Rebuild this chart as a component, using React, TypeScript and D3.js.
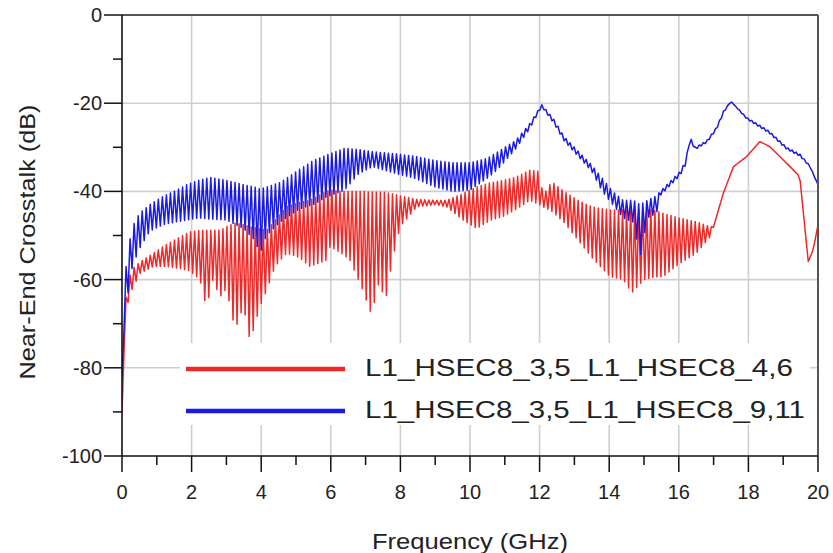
import React, { useMemo } from "react";
import * as d3 from "d3";

// ---- Data ----
const xTicks = [0, 2, 4, 6, 8, 10, 12, 14, 16, 18, 20];
const xMinorTicks = [1, 3, 5, 7, 9, 11, 13, 15, 17, 19];
const yTicks = [0, -20, -40, -60, -80, -100];
const yMinorTicks = [-10, -30, -50, -70, -90];

const seriesNames = ["L1_HSEC8_3,5_L1_HSEC8_4,6", "L1_HSEC8_3,5_L1_HSEC8_9,11"];

// oscillation half-period (GHz) of the dense ripple
const rippleHalfPeriod = 0.058;

// Blue: L1_HSEC8_3,5_L1_HSEC8_9,11 — frequency knots, upper and lower envelope (dB)
const blueF = [0, 0.05, 0.1, 0.2, 0.3, 0.5, 0.8, 1.2, 1.5, 1.86, 2.2, 2.53, 3.0, 3.5, 3.8, 3.97, 4.15, 4.54, 5.1, 5.5, 5.9, 6.4, 6.8, 7.2, 7.9, 8.4, 9.0, 9.5, 10.0, 10.5, 10.8, 11.3, 11.7, 12.06, 12.4, 12.7, 13.1, 13.5, 13.8, 14.1, 14.4, 14.7, 14.89, 15.1, 15.36, 15.46, 16.03, 16.2, 16.32, 16.47, 16.8, 17.08, 17.3, 17.5, 17.95, 18.6, 19.1, 19.48, 19.77, 20];
const blueUpper = [-82, -66, -58, -52, -48, -45, -43, -41, -40, -38.5, -37.5, -36.8, -37.5, -38.5, -39, -39.5, -39, -38, -35, -33, -31.7, -30.2, -30.5, -31, -31.5, -32, -33, -33.5, -33.5, -32.5, -31, -28.5, -24.8, -20.3, -23.5, -27.5, -30.8, -34, -37, -40, -42, -42, -43, -42, -41, -40, -35.5, -33, -27.6, -30, -28.5, -25.5, -21.5, -19.6, -23.2, -26.3, -30, -31.5, -34.2, -38.5];
const blueLower = [-82, -72, -66, -62, -57, -53, -49, -47.5, -47, -46.5, -46, -46.3, -46.5, -48.5, -51, -54, -50, -47, -44, -43, -41.2, -39.7, -36, -34.4, -36, -37, -39, -40, -39.7, -37, -35, -30.5, -26, -20.8, -24.5, -28.5, -32, -35.5, -40, -43, -46, -47, -55, -46, -45, -41, -36.5, -34, -28.5, -30.5, -29, -26, -22, -19.6, -23.6, -26.8, -30.5, -32, -34.5, -38.5];

// Red: L1_HSEC8_3,5_L1_HSEC8_4,6 — frequency knots, upper and lower envelope (dB)
const redF = [0, 0.05, 0.1, 0.14, 0.3, 0.52, 0.9, 1.28, 1.67, 1.95, 2.24, 2.43, 2.6, 2.82, 3.0, 3.25, 3.49, 3.68, 3.97, 4.16, 4.4, 4.73, 5.1, 5.4, 5.88, 5.98, 6.3, 6.55, 6.9, 7.17, 7.4, 7.56, 7.75, 7.99, 8.47, 9.0, 9.33, 9.8, 10.19, 10.6, 10.95, 11.34, 11.72, 11.99, 12.1, 12.35, 12.7, 13.1, 13.5, 14.02, 14.4, 14.65, 15.0, 15.26, 15.56, 16.0, 16.51, 16.9, 17.0, 17.28, 17.57, 17.95, 18.33, 18.62, 19.2, 19.43, 19.48, 19.72, 19.86, 20];
const redUpper = [-90, -76, -66, -61, -57.5, -56, -54, -52, -50.3, -49.2, -48.8, -48.8, -48.8, -48.8, -48, -47.2, -47.5, -48, -48.5, -48.8, -46.5, -43.5, -42.5, -42, -40, -39.7, -40, -40, -40, -40.2, -40.2, -40.2, -40.5, -41, -41.8, -42, -42, -40.5, -39, -38, -37.5, -36.7, -35.2, -35.5, -41, -37.8, -40, -42, -43.5, -44.2, -44.2, -44, -44, -44.2, -45, -46, -46.9, -48, -48, -40.4, -34.4, -32.1, -28.7, -29.9, -34.4, -36.3, -37, -55.9, -53.3, -47.6];
const redLower = [-90, -78, -68, -66, -62, -58.6, -57, -57, -57.5, -58, -60, -66.5, -60, -63.9, -62, -71.4, -66, -74, -66, -62.4, -57, -54, -55, -57, -55.6, -52.5, -54, -55.6, -62, -68, -60, -65.4, -56.3, -48, -43.5, -43, -43.5, -46.5, -48.4, -46.5, -45.7, -44, -42, -43, -43.5, -44.5, -47, -51, -55, -59.3, -60, -63, -60, -59.5, -59.3, -56.5, -54, -50.3, -48, -40.4, -34.4, -32.1, -28.7, -29.9, -34.4, -36.3, -37, -55.9, -53.3, -47.6];

const W = 833;
const H = 553;
const FONT = "'Liberation Sans', Arial, sans-serif";

function buildTrace(fs: number[], up: number[], lo: number[]) {
  const upI = d3.scaleLinear<number>().domain(fs).range(up).clamp(true);
  const loI = d3.scaleLinear<number>().domain(fs).range(lo).clamp(true);
  const pts: [number, number][] = [];
  const n = Math.floor(20 / rippleHalfPeriod);
  for (let i = 0; i <= n; i++) {
    const f = i * rippleHalfPeriod;
    pts.push([f, i % 2 === 0 ? upI(f) : loI(f)]);
  }
  pts.push([20, upI(20)]);
  return pts;
}

export default function App() {
  const x = d3.scaleLinear().domain([0, 20]).range([122, 818]);
  const y = d3.scaleLinear().domain([-100, 0]).range([456, 15]);

  const red = useMemo(() => buildTrace(redF, redUpper, redLower), []);
  const blue = useMemo(() => buildTrace(blueF, blueUpper, blueLower), []);

  const line = d3
    .line<[number, number]>()
    .x((d) => x(d[0]))
    .y((d) => y(d[1]));

  const [x0, x1] = x.range();
  const [y0, y1] = y.range();

  return (
    <svg
      width={W}
      height={H}
      style={{ position: "absolute", left: 0, top: 0, background: "#fff" }}
      fontFamily={FONT}
    >
      <defs>
        <clipPath id="plotClip">
          <rect x={x0} y={y1} width={x1 - x0} height={y0 - y1} />
        </clipPath>
      </defs>
      <rect x={0} y={0} width={W} height={H} fill="#fff" />

      {/* grid */}
      {xTicks.filter((t) => t > 0 && t < 20).map((t) => (
        <line key={"gx" + t} x1={x(t)} x2={x(t)} y1={y1} y2={y0} stroke="#cfcfcf" strokeWidth={1.6} />
      ))}
      {yTicks.filter((t) => t < 0 && t > -100).map((t) => (
        <line key={"gy" + t} x1={x0} x2={x1} y1={y(t)} y2={y(t)} stroke="#cfcfcf" strokeWidth={1.6} />
      ))}

      {/* legend background */}
      <rect x={180} y={343} width={630} height={82} fill="#fff" />

      {/* data */}
      <g clipPath="url(#plotClip)">
        <path d={line(red) || ""} fill="none" stroke="#f02828" strokeWidth={1.5} strokeLinejoin="round" />
        <path d={line(blue) || ""} fill="none" stroke="#1a1ae6" strokeWidth={1.5} strokeLinejoin="round" />
      </g>

      {/* frame top/right */}
      <line x1={x0} x2={x1} y1={y1} y2={y1} stroke="#555" strokeWidth={2} />
      <line x1={x1} x2={x1} y1={y1} y2={y0} stroke="#555" strokeWidth={2} />
      {/* axes */}
      <line x1={x0} x2={x0} y1={y1} y2={y0} stroke="#111" strokeWidth={1.6} />
      <line x1={x0} x2={x1} y1={y0} y2={y0} stroke="#111" strokeWidth={1.6} />

      {/* y ticks */}
      {yTicks.map((t) => (
        <g key={"yt" + t}>
          <line x1={x0 - 18} x2={x0} y1={y(t)} y2={y(t)} stroke="#111" strokeWidth={1.5} />
          <text x={x0 - 20} y={y(t)} dy="0.35em" textAnchor="end" fontSize={20} fill="#222">
            {t}
          </text>
        </g>
      ))}
      {yMinorTicks.map((t) => (
        <line key={"ym" + t} x1={x0 - 9} x2={x0} y1={y(t)} y2={y(t)} stroke="#111" strokeWidth={1.5} />
      ))}

      {/* x ticks */}
      {xTicks.map((t) => (
        <g key={"xt" + t}>
          <line x1={x(t)} x2={x(t)} y1={y0} y2={y0 + 16} stroke="#111" strokeWidth={1.5} />
          <text x={x(t)} y={492} dy="0.35em" textAnchor="middle" fontSize={20} fill="#222">
            {t}
          </text>
        </g>
      ))}
      {xMinorTicks.map((t) => (
        <line key={"xm" + t} x1={x(t)} x2={x(t)} y1={y0} y2={y0 + 9} stroke="#111" strokeWidth={1.5} />
      ))}

      {/* axis titles */}
      <text x={470} y={541} dy="0.35em" textAnchor="middle" fontSize={22} fill="#222" textLength={196} lengthAdjust="spacingAndGlyphs">
        Frequency (GHz)
      </text>
      <text
        transform={`translate(27,${242}) rotate(-90)`}
        textAnchor="middle"
        dy="0.35em"
        fontSize={22}
        fill="#222"
        textLength={275}
        lengthAdjust="spacingAndGlyphs"
      >
        Near-End Crosstalk (dB)
      </text>

      {/* legend */}
      <line x1={186} x2={345} y1={369} y2={369} stroke="#f02828" strokeWidth={4.5} />
      <line x1={186} x2={345} y1={411} y2={411} stroke="#1a1ae6" strokeWidth={4.5} />
      <text x={365} y={368} dy="0.35em" fontSize={24} fill="#222" textLength={428} lengthAdjust="spacingAndGlyphs">
        {seriesNames[0]}
      </text>
      <text x={365} y={410} dy="0.35em" fontSize={24} fill="#222" textLength={440} lengthAdjust="spacingAndGlyphs">
        {seriesNames[1]}
      </text>
    </svg>
  );
}
